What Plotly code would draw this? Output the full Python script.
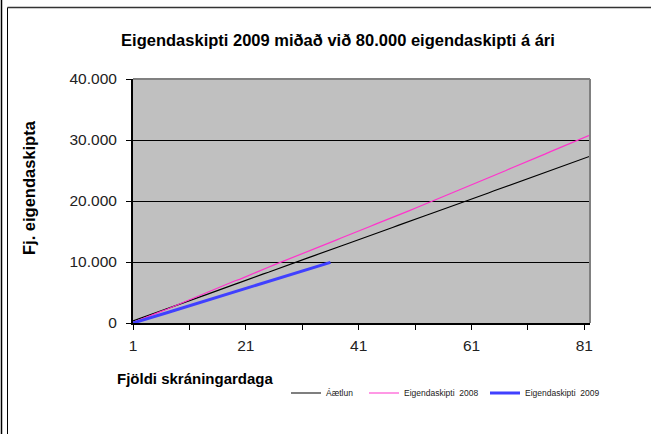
import plotly.graph_objects as go

days = list(range(1, 83))

aaetlun = [350, 690, 980, 1330, 1690, 2000, 2310, 2680, 3000, 3320,
           3690, 4010, 4320, 4650, 5010, 5330, 5640, 6000, 6330, 6650,
           7010, 7320, 7660, 8010, 8320, 8640, 9000, 9340, 9660, 10000,
           10320, 10670, 11010, 11320, 11650, 12000, 12340, 12660, 13000, 13320,
           13660, 14010, 14330, 14660, 15000, 15330, 15660, 16010, 16320, 16650,
           17000, 17340, 17660, 18000, 18320, 18670, 19010, 19320, 19650, 20000,
           20340, 20660, 21000, 21320, 21670, 22010, 22330, 22650, 23000, 23340,
           23660, 24000, 24320, 24670, 25000, 25330, 25660, 26000, 26330, 26660,
           27000, 27340]

eig2008 = [80, 420, 760, 1120, 1480, 1900, 2250, 2640, 3050, 3400,
           3800, 4200, 4560, 4950, 5340, 5720, 6060, 6480, 6880, 7200,
           7610, 8010, 8400, 8800, 9150, 9520, 9880, 10220, 10600, 10980,
           11330, 11720, 12100, 12450, 12850, 13200, 13590, 13970, 14320, 14700,
           15080, 15430, 15830, 16200, 16550, 16950, 17320, 17680, 18070, 18420,
           18810, 19190, 19540, 19930, 20310, 20710, 21080, 21490, 21860, 22270,
           22640, 23040, 23430, 23800, 24210, 24600, 24970, 25380, 25750, 26160,
           26530, 26930, 27320, 27690, 28100, 28490, 28860, 29270, 29640, 30040,
           30430, 30820]

days2009 = list(range(1, 37))
eig2009 = [0, 260, 540, 830, 1120, 1380, 1680, 1960, 2250, 2540,
           2800, 3110, 3390, 3680, 3960, 4250, 4520, 4820, 5100, 5390,
           5660, 5960, 6230, 6520, 6810, 7090, 7380, 7660, 7960, 8230,
           8520, 8810, 9090, 9380, 9660, 9950]

x_ticks = [1, 21, 41, 61, 81]
x_minor = [11, 31, 51, 71]
y_ticks = [0, 10000, 20000, 30000, 40000]

FONT = "Liberation Sans, Arial, sans-serif"

# plot area pixel geometry
L, R, T, B = 133, 61, 79, 111
W, H = 651, 434
pw, ph = W - L - R, H - T - B


def px(x):
    return (x - L) / pw


def py(y):
    return (H - B - y) / ph


fig = go.Figure()
fig.add_trace(go.Scatter(x=days, y=aaetlun, mode="lines", name="Áætlun",
                         line=dict(color="black", width=1.2), legend="legend"))
fig.add_trace(go.Scatter(x=days, y=eig2008, mode="lines", name="Eigendaskipti  2008",
                         line=dict(color="#FF33CC", width=1.2), legend="legend2"))
fig.add_trace(go.Scatter(x=days2009, y=eig2009, mode="lines", name="Eigendaskipti  2009",
                         line=dict(color="#4040FF", width=3), legend="legend3"))

leg_common = dict(orientation="h", yanchor="middle", xanchor="left",
                  bgcolor="rgba(0,0,0,0)", font=dict(family=FONT, size=8.5, color="#222"),
                  itemwidth=30)

fig.update_layout(
    width=W, height=H,
    margin=dict(l=L, r=R, t=T, b=B, pad=0),
    paper_bgcolor="white",
    plot_bgcolor="#C0C0C0",
    separators=",.",
    showlegend=True,
    title=dict(text="<b>Eigendaskipti 2009 miðað við 80.000 eigendaskipti á ári</b>",
               x=338 / W, xref="container", xanchor="center",
               y=1 - 40 / H, yref="container", yanchor="middle",
               font=dict(family=FONT, size=16.5, color="black")),
    xaxis=dict(range=[1, 82], tickvals=x_ticks, ticks="outside", ticklen=5,
               tickcolor="black", tickwidth=1, showgrid=False, zeroline=False,
               showline=True, linecolor="black", linewidth=2,
               tickfont=dict(family=FONT, size=15.5, color="#222"),
               ticklabelstandoff=2,
               minor=dict(tickvals=x_minor, ticks="outside", ticklen=5,
                          tickcolor="black", tickwidth=1, showgrid=False)),
    yaxis=dict(range=[0, 40000], tickvals=y_ticks, tickformat=",", ticks="outside",
               ticklen=5, tickcolor="black", tickwidth=1,
               showgrid=True, gridcolor="black", gridwidth=1, zeroline=False,
               showline=True, linecolor="black", linewidth=2,
               tickfont=dict(family=FONT, size=15.5, color="#222"),
               ticklabelstandoff=6),
    legend=dict(x=px(286), y=py(393), **leg_common),
    legend2=dict(x=px(364), y=py(393), **leg_common),
    legend3=dict(x=px(485), y=py(393), **leg_common),
)

# axis titles
fig.add_annotation(text="<b>Fj. eigendaskipta</b>", textangle=-90,
                   xref="paper", yref="paper", x=px(29), y=py(188),
                   xanchor="center", yanchor="middle", showarrow=False,
                   font=dict(family=FONT, size=16.5, color="black"))
fig.add_annotation(text="<b>Fjöldi skráningardaga</b>",
                   xref="paper", yref="paper", x=px(115), y=py(378),
                   xanchor="left", yanchor="middle", showarrow=False,
                   font=dict(family=FONT, size=15, color="black"))

# plot area top/right border (grey)
fig.add_shape(type="line", xref="paper", yref="paper", x0=0, x1=1, y0=1, y1=1,
              line=dict(color="#808080", width=2), layer="above")
fig.add_shape(type="line", xref="paper", yref="paper", x0=1, x1=1, y0=0, y1=1,
              line=dict(color="#808080", width=2), layer="above")

# chart frame
fig.add_shape(type="line", xref="paper", yref="paper",
              x0=px(7.5), x1=px(7.5), y0=py(440), y1=py(7.5),
              line=dict(color="black", width=1))
fig.add_shape(type="line", xref="paper", yref="paper",
              x0=px(7.5), x1=px(660), y0=py(7.5), y1=py(7.5),
              line=dict(color="#333", width=1.5))
fig.add_shape(type="line", xref="paper", yref="paper",
              x0=px(1.5), x1=px(1.5), y0=py(440), y1=py(-5),
              line=dict(color="black", width=1.5))

fig.write_html("out.html", config={"displayModeBar": False},
               post_script="document.body.style.margin='0';")
